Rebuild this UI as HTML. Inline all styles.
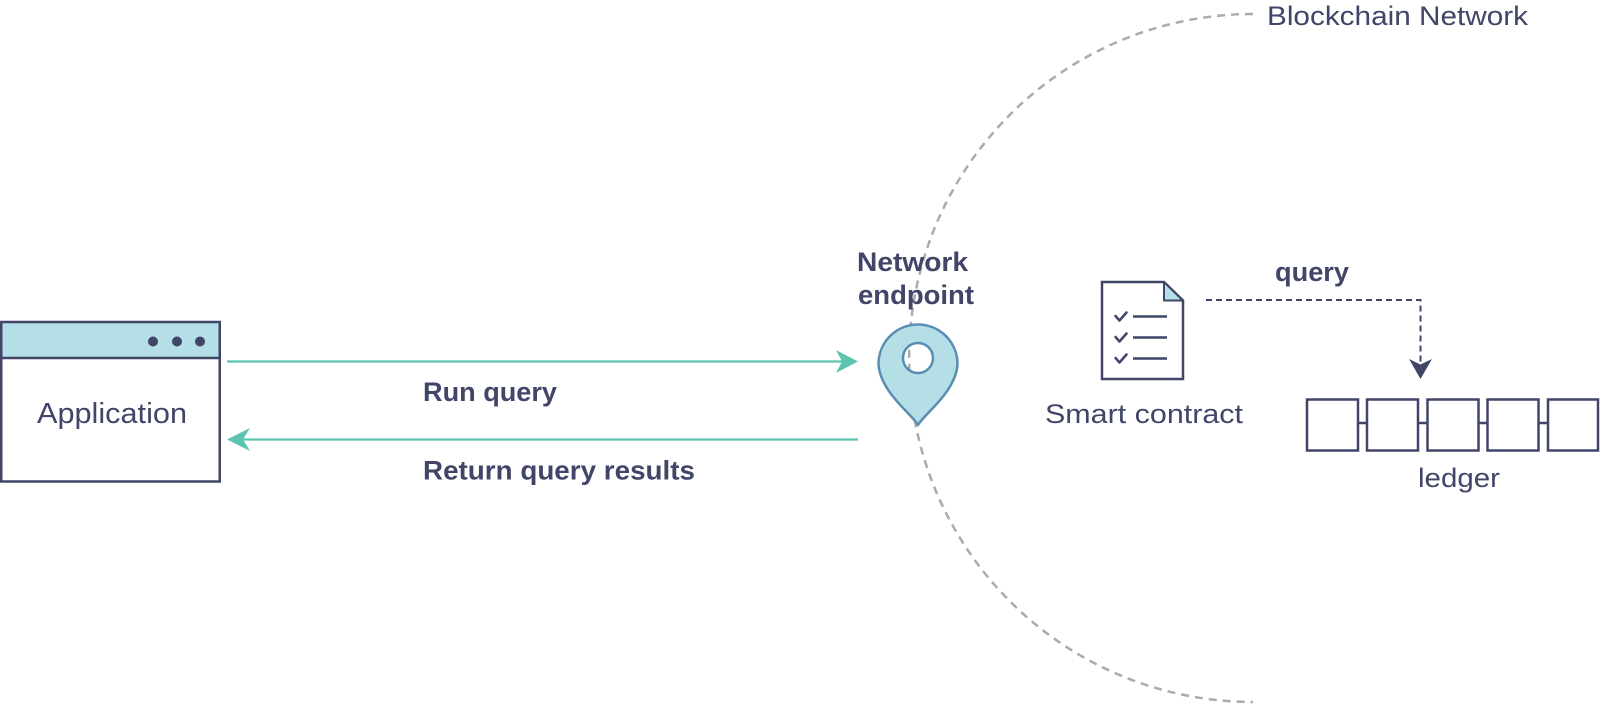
<!DOCTYPE html>
<html>
<head>
<meta charset="utf-8">
<style>
  html, body { margin: 0; padding: 0; background: #ffffff; }
  body { width: 1600px; height: 704px; overflow: hidden; }
  svg { display: block; }
  text { font-family: "Liberation Sans", Arial, sans-serif; fill: #414568; }
  .b { font-weight: bold; }
</style>
</head>
<body>
<svg width="1600" height="704" viewBox="0 0 1600 704" xmlns="http://www.w3.org/2000/svg">
  <!-- Blockchain network dashed arc -->
  <path d="M 1253 14 A 344 344 0 0 0 1253 702" fill="none" stroke="#ababab" stroke-width="2.5" stroke-dasharray="8 6"/>
  <text x="1267" y="25" font-size="27" textLength="261" lengthAdjust="spacingAndGlyphs">Blockchain Network</text>

  <!-- Application window -->
  <rect x="1.25" y="322" width="218.5" height="36" fill="#b4dfe6"/>
  <rect x="1.25" y="322" width="218.5" height="159.5" fill="none" stroke="#414568" stroke-width="2.5"/>
  <line x1="1" y1="358" x2="220" y2="358" stroke="#414568" stroke-width="2.5"/>
  <circle cx="153" cy="341.5" r="5" fill="#414568"/>
  <circle cx="177" cy="341.5" r="5" fill="#414568"/>
  <circle cx="200" cy="341.5" r="5" fill="#414568"/>
  <text x="37" y="423" font-size="29" textLength="150" lengthAdjust="spacingAndGlyphs">Application</text>

  <!-- Run query arrow -->
  <line x1="227" y1="361.5" x2="850" y2="361.5" stroke="#5cc4b0" stroke-width="2.2"/>
  <path d="M 858 361.5 L 836 350 L 842 361.5 L 836 373 Z" fill="#5cc4b0"/>
  <text class="b" x="423" y="401" font-size="27" textLength="134" lengthAdjust="spacingAndGlyphs">Run query</text>

  <!-- Return arrow -->
  <line x1="236" y1="439.5" x2="858" y2="439.5" stroke="#5cc4b0" stroke-width="2.2"/>
  <path d="M 227 439.5 L 250 428 L 243 439.5 L 250 451 Z" fill="#5cc4b0"/>
  <text class="b" x="423" y="479.5" font-size="27" textLength="272" lengthAdjust="spacingAndGlyphs">Return query results</text>

  <!-- Network endpoint label -->
  <text class="b" x="857" y="271" font-size="27" textLength="111" lengthAdjust="spacingAndGlyphs">Network</text>
  <text class="b" x="858" y="304" font-size="27" textLength="116" lengthAdjust="spacingAndGlyphs">endpoint</text>

  <!-- Pin -->
  <path fill-rule="evenodd" fill="#b4dfe6" stroke="#5a8db4" stroke-width="2.5" stroke-linejoin="round"
        d="M 918 425
           C 912 414, 880 392, 878.5 364
           A 39.5 39.5 0 1 1 957.5 364
           C 956 392, 924 414, 918 425 Z
           M 918 358 m -15 0 a 15 15 0 1 0 30 0 a 15 15 0 1 0 -30 0 Z"/>

  <!-- Smart contract document -->
  <path d="M 1102 282 L 1164 282 L 1183 300.5 L 1183 379 L 1102 379 Z" fill="#ffffff" stroke="#414568" stroke-width="2.5" stroke-linejoin="miter"/>
  <path d="M 1164 282 L 1164 300.5 L 1183 300.5 Z" fill="#b4dfe6" stroke="#414568" stroke-width="2" stroke-linejoin="round"/>
  <g stroke="#414568" stroke-width="2.5" fill="none" stroke-linecap="round" stroke-linejoin="round">
    <polyline points="1115.5,316 1119.5,320.5 1126.5,312.5"/>
    <polyline points="1115.5,337 1119.5,341.5 1126.5,333.5"/>
    <polyline points="1115.5,358 1119.5,362.5 1126.5,354.5"/>
  </g>
  <g stroke="#414568" stroke-width="2.5">
    <line x1="1133" y1="316.5" x2="1167" y2="316.5"/>
    <line x1="1133" y1="337.5" x2="1167" y2="337.5"/>
    <line x1="1133" y1="358.5" x2="1167" y2="358.5"/>
  </g>
  <text x="1045" y="423" font-size="27" textLength="198" lengthAdjust="spacingAndGlyphs">Smart contract</text>

  <!-- query dashed arrow -->
  <text class="b" x="1275" y="281" font-size="27" textLength="74" lengthAdjust="spacingAndGlyphs">query</text>
  <path d="M 1206 300 L 1420.5 300 L 1420.5 362" fill="none" stroke="#414568" stroke-width="2" stroke-dasharray="6 4"/>
  <path d="M 1420.5 379 L 1409 359 L 1420.5 364.5 L 1432 359 Z" fill="#414568"/>

  <!-- Ledger -->
  <g fill="none" stroke="#414568" stroke-width="2.5">
    <rect x="1307" y="399.5" width="51" height="51"/>
    <rect x="1367" y="399.5" width="51" height="51"/>
    <rect x="1427.5" y="399.5" width="51" height="51"/>
    <rect x="1487.5" y="399.5" width="51" height="51"/>
    <rect x="1548" y="399.5" width="50" height="51"/>
    <line x1="1358" y1="423" x2="1367" y2="423"/>
    <line x1="1418" y1="423" x2="1427.5" y2="423"/>
    <line x1="1478.5" y1="423" x2="1487.5" y2="423"/>
    <line x1="1538.5" y1="423" x2="1548" y2="423"/>
  </g>
  <text x="1418" y="487" font-size="27" textLength="82" lengthAdjust="spacingAndGlyphs">ledger</text>
</svg>
</body>
</html>
